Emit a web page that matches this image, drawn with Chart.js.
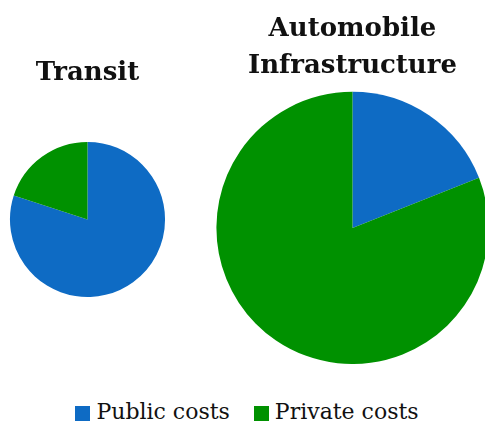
<!DOCTYPE html>
<html>
<head>
<meta charset="utf-8">
<script src="https://cdn.jsdelivr.net/npm/chart.js@4.4.1/dist/chart.umd.min.js"></script>
<style>
  html, body { margin: 0; padding: 0; background: #fff; overflow: hidden; }
  #wrap { position: relative; width: 485px; height: 424px; overflow: hidden; }
  #boxLeft { position: absolute; left: 0; top: 50px; width: 175px; height: 250px; }
  #boxRight { position: absolute; left: 210px; top: 0; width: 285px; height: 364px; }
  #legend {
    position: absolute; left: 0; top: 399px; width: 494px;
    display: flex; justify-content: center; gap: 24px;
    font-family: "DejaVu Serif", serif; font-size: 22px; color: #111;
  }
  #legend span.item { display: flex; align-items: center; }
  #legend i { display: inline-block; width: 15px; height: 15px; margin-right: 6px; margin-top: 3px; }
</style>
</head>
<body>
<div id="wrap">
  <div id="boxLeft"><canvas id="chartTransit"></canvas></div>
  <div id="boxRight"><canvas id="chartAuto"></canvas></div>
  <div id="legend"></div>
</div>
<script>
const categories = ["Public costs", "Private costs"];
const colors = ["#0e6bc4", "#009100"];

const transitTitle = "Transit";
const transitValues = [80, 20];

const autoTitle = ["Automobile", "Infrastructure"];
const autoValues = [19, 81];

const titleFont = { family: "'DejaVu Serif', serif", size: 26, weight: "bold", lineHeight: 1.42 };

function makePie(id, title, values, titlePad, layoutPad) {
  return new Chart(document.getElementById(id), {
    type: "pie",
    data: {
      labels: categories,
      datasets: [{ data: values, backgroundColor: colors, borderWidth: 0 }],
    },
    options: {
      responsive: true,
      maintainAspectRatio: false,
      animation: false,
      layout: { padding: layoutPad },
      plugins: {
        legend: { display: false },
        tooltip: { enabled: false },
        title: {
          display: true,
          text: title,
          color: "#111",
          font: titleFont,
          padding: titlePad,
        },
      },
    },
  });
}

makePie("chartTransit", transitTitle, transitValues, { top: 5, bottom: 50 }, { bottom: 3 });
makePie("chartAuto", autoTitle, autoValues, { top: 11, bottom: 7 }, 0);

// legend
var lg = document.getElementById("legend");
categories.forEach((c, i) => {
  var s = document.createElement("span");
  s.className = "item";
  s.innerHTML = `<i style="background:${colors[i]}"></i>${c}`;
  lg.appendChild(s);
});
</script>
</body>
</html>
